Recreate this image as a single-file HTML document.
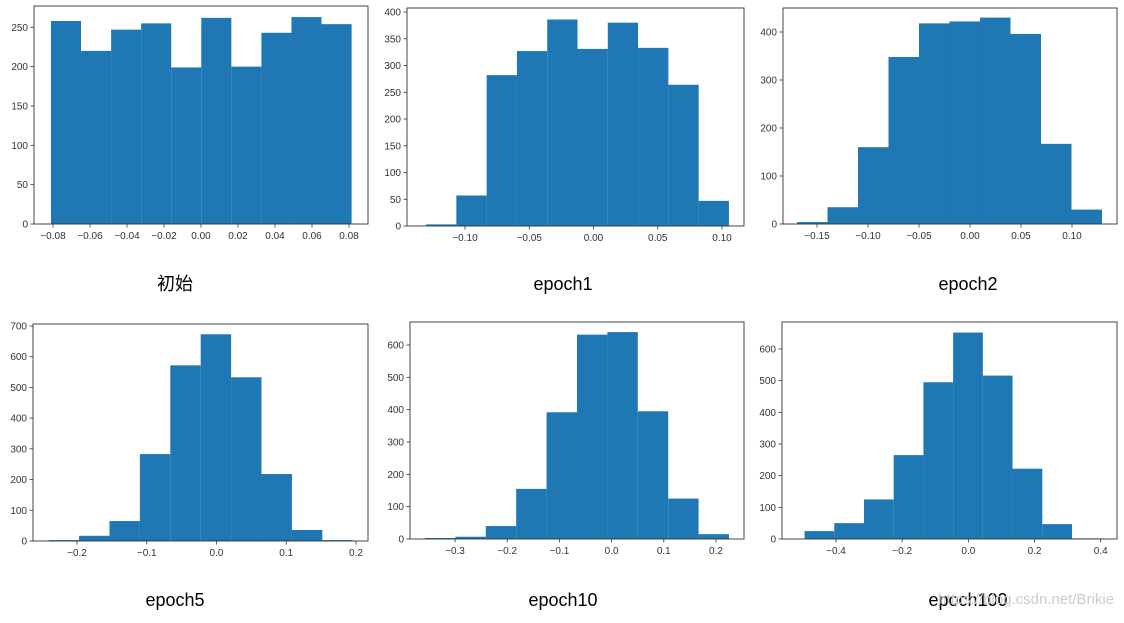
<!DOCTYPE html>
<html><head><meta charset="utf-8"><style>
body{margin:0;background:#fff;width:1124px;height:618px;overflow:hidden}
svg text{font-family:"Liberation Sans","DejaVu Sans",sans-serif}
.t{font-family:"Liberation Sans","Noto Sans CJK SC",sans-serif;font-size:18px;fill:#000}
</style></head><body>
<svg id="c" width="1124" height="618"></svg>
<script>
const counts1=[258,220,247,255,199,262,200,243,263,254];
const counts2=[3,57,282,327,386,331,380,333,264,47];
const counts3=[4,35,160,348,418,422,430,396,167,30];
const counts4=[3,17,65,283,572,673,533,218,36,3];
const counts5=[3,7,40,155,392,632,640,395,125,15];
const counts6=[25,50,125,265,495,652,516,222,47,2];
const binRange1=[-0.0811,0.0814];
const binRange2=[-0.1303,0.1054];
const binRange3=[-0.1696,0.1294];
const binRange4=[-0.2406,0.1953];
const binRange5=[-0.3575,0.2249];
const binRange6=[-0.495,0.403];
const xTicks1=[-0.08,-0.06,-0.04,-0.02,0,0.02,0.04,0.06,0.08];
const xTicks2=[-0.10,-0.05,0,0.05,0.10];
const xTicks3=[-0.15,-0.10,-0.05,0,0.05,0.10];
const xTicks4=[-0.2,-0.1,0,0.1,0.2];
const xTicks5=[-0.3,-0.2,-0.1,0,0.1,0.2];
const xTicks6=[-0.4,-0.2,0,0.2,0.4];
const yTicks1=[0,50,100,150,200,250];
const yTicks2=[0,50,100,150,200,250,300,350,400];
const yTicks3=[0,100,200,300,400];
const yTicks4=[0,100,200,300,400,500,600,700];
const yTicks5=[0,100,200,300,400,500,600];
const yTicks6=[0,100,200,300,400,500,600];
const titles=["初始","epoch1","epoch2","epoch5","epoch10","epoch100"];

const layout=[
 {box:[34,6,368,224],xr:[-0.08,53,0.08,349],yr:[250,27.3],dec:2,title:[175,290]},
 {box:[407,8,744,226],xr:[-0.10,465,0.10,722],yr:[400,12],dec:2,title:[563,290]},
 {box:[783,8,1117,224],xr:[-0.15,817,0.10,1072],yr:[400,32],dec:2,title:[968,290]},
 {box:[33,324,368,541],xr:[-0.2,77,0.2,356],yr:[700,326],dec:1,title:[175,606]},
 {box:[410,322,744,539],xr:[-0.3,455,0.2,716],yr:[600,345],dec:1,title:[563,606]},
 {box:[782,322,1117,539],xr:[-0.4,836,0.4,1100.7],yr:[600,349],dec:1,title:[968,606]}
];
const allCounts=[counts1,counts2,counts3,counts4,counts5,counts6];
const allBins=[binRange1,binRange2,binRange3,binRange4,binRange5,binRange6];
const allX=[xTicks1,xTicks2,xTicks3,xTicks4,xTicks5,xTicks6];
const allY=[yTicks1,yTicks2,yTicks3,yTicks4,yTicks5,yTicks6];
const NS="http://www.w3.org/2000/svg";
const svg=document.getElementById('c');
function mk(tag,attrs,parent){const e=document.createElementNS(NS,tag);for(const k in attrs)e.setAttribute(k,attrs[k]);parent.appendChild(e);return e;}
function fmt(v,d){const s=Math.abs(v).toFixed(d);return (v<-1e-9?"\u2212":"")+s;}
layout.forEach((L,i)=>{
  const g=mk('g',{},svg);
  
  
  const [x0,y0,x1,y1]=L.box;
  const sx=v=>L.xr[1]+(v-L.xr[0])*(L.xr[3]-L.xr[1])/(L.xr[2]-L.xr[0]);
  const sy=v=>y1-v*(y1-L.yr[1])/L.yr[0];
  const c=allCounts[i],br=allBins[i],n=c.length,w=(br[1]-br[0])/n;
  c.forEach((v,j)=>{
    const a=sx(br[0]+j*w),b=sx(br[0]+(j+1)*w);
    const r=mk('rect',{x:a,y:sy(v),width:b-a,height:y1-sy(v),fill:'#1f77b4'},g);
    
    
  });
  const f=mk('rect',{x:x0,y:y0,width:x1-x0,height:y1-y0,fill:'none',stroke:'#333','stroke-width':0.9},g);
  
  
  allX[i].forEach(v=>{
    const x=sx(v);
    mk('line',{x1:x,x2:x,y1:y1,y2:y1+3.5,stroke:'#333','stroke-width':0.8},g);
    const t=mk('text',{x:x,y:y1+15,'font-size':10,fill:'#333','text-anchor':'middle'},g);
    t.textContent=fmt(v,L.dec);
    
    
  });
  allY[i].forEach(v=>{
    const y=sy(v);
    mk('line',{x1:x0-3.5,x2:x0,y1:y,y2:y,stroke:'#333','stroke-width':0.8},g);
    const t=mk('text',{x:x0-6,y:y+3.5,'font-size':10,fill:'#333','text-anchor':'end'},g);
    t.textContent=String(v);
    
    
  });
  const tt=mk('text',{x:L.title[0],y:L.title[1],'class':'t','text-anchor':'middle'},g);
  tt.textContent=titles[i];
  
  
});
const wm=mk('text',{x:1114,y:604,'font-size':15,fill:'#ccc','text-anchor':'end'},svg);
wm.textContent="https://blog.csdn.net/Brikie";


</script>
</body></html>
